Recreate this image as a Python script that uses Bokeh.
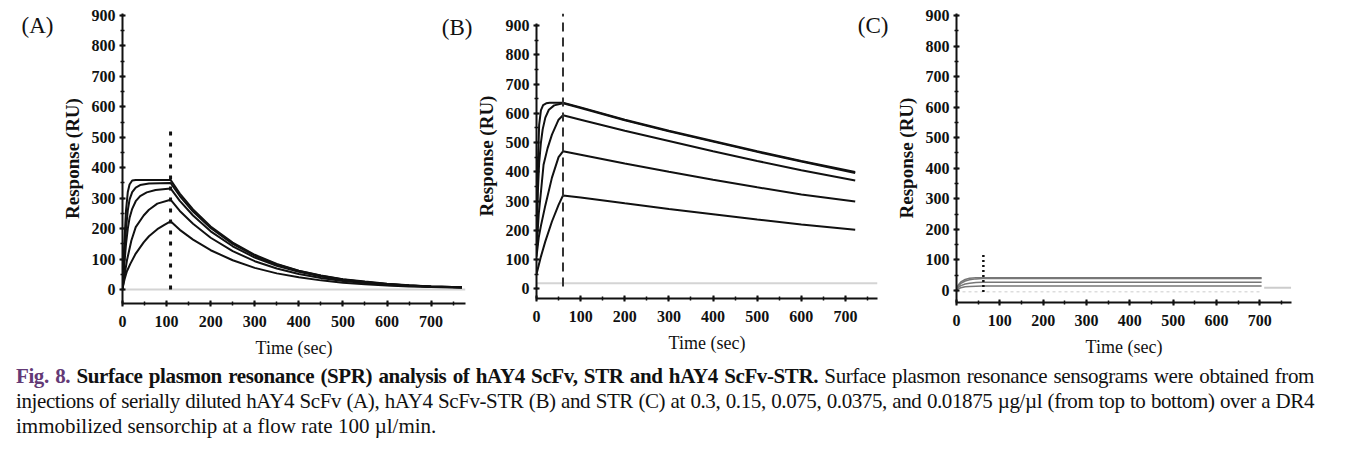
from bokeh.plotting import figure
from bokeh.models import Range1d, SingleIntervalTicker, FixedTicker, LinearAxis, Div
from bokeh.layouts import row, column
from bokeh.embed import file_html
from bokeh.resources import INLINE

# ---------------- data ----------------
# Panel A: hAY4 ScFv
a_t1 = [0, 4, 8, 12, 16, 22, 30, 109, 130, 160, 200, 250, 300, 350, 400, 450, 500, 550, 600, 650, 700, 770]
a_v1 = [0, 150, 260, 320, 345, 358, 360, 360, 315, 263, 207, 154, 114, 84, 62, 46, 34, 26, 19, 14, 10, 7]
a_t2 = [0, 4, 8, 12, 16, 22, 30, 40, 60, 109, 130, 160, 200, 250, 300, 350, 400, 450, 500, 550, 600, 650, 700, 770]
a_v2 = [0, 110, 200, 260, 295, 320, 335, 343, 348, 350, 307, 256, 202, 150, 111, 82, 61, 45, 33, 25, 18, 13, 10, 7]
a_t3 = [0, 4, 8, 12, 16, 22, 30, 40, 55, 75, 109, 130, 160, 200, 250, 300, 350, 400, 450, 500, 550, 600, 650, 700, 770]
a_v3 = [0, 80, 150, 200, 235, 265, 290, 307, 319, 327, 332, 291, 243, 191, 142, 105, 78, 58, 43, 32, 24, 17, 13, 10, 7]
a_t4 = [0, 5, 10, 20, 30, 48, 60, 79, 109, 130, 160, 200, 250, 300, 350, 400, 450, 500, 550, 600, 650, 700, 770]
a_v4 = [0, 50, 95, 160, 205, 243, 262, 282, 295, 258, 216, 170, 126, 93, 69, 51, 38, 28, 21, 15, 12, 9, 7]
a_t5 = [0, 5, 10, 18, 30, 48, 60, 79, 95, 109, 130, 160, 200, 250, 300, 350, 400, 450, 500, 550, 600, 650, 700, 770]
a_v5 = [5, 35, 60, 85, 118, 155, 175, 198, 212, 224, 196, 164, 129, 96, 71, 53, 40, 30, 22, 17, 13, 10, 8, 6]
a_inject_end = 109
a_marker_top = 532

# Panel B: hAY4 ScFv-STR
b_t1 = [0, 3, 6, 10, 15, 22, 30, 60, 100, 200, 300, 400, 500, 600, 722]
b_v1 = [150, 420, 560, 610, 628, 634, 636, 636, 620, 578, 540, 505, 470, 437, 399]
b_t2 = [0, 3, 6, 10, 14, 20, 28, 40, 60, 100, 200, 300, 400, 500, 600, 722]
b_v2 = [150, 330, 430, 500, 545, 585, 612, 627, 634, 618, 576, 538, 503, 468, 435, 396]
b_t3 = [0, 5, 10, 16, 25, 35, 50, 60, 100, 200, 300, 400, 500, 600, 722]
b_v3 = [130, 254, 330, 424, 480, 527, 578, 593, 578, 540, 505, 470, 437, 405, 370]
b_t4 = [0, 5, 10, 20, 35, 50, 60, 100, 200, 300, 400, 500, 600, 722]
b_v4 = [110, 175, 215, 285, 380, 450, 470, 458, 428, 400, 373, 347, 322, 298]
b_t5 = [0, 10, 20, 35, 50, 60, 100, 200, 300, 400, 500, 600, 722]
b_v5 = [50, 110, 162, 230, 287, 319, 312, 292, 273, 255, 237, 220, 202]
b_inject_end = 60
b_baseline = 19

# Panel C: STR
c_t1 = [0, 5, 10, 20, 30, 45, 60, 704]
c_v1 = [8, 20, 28, 36, 40, 42, 42, 42]
c_t2 = [0, 5, 10, 20, 30, 45, 60, 704]
c_v2 = [6, 16, 23, 31, 35, 38, 39, 39]
c_t3 = [0, 5, 10, 20, 30, 45, 60, 704]
c_v3 = [5, 11, 16, 21, 24, 26, 27, 27]
c_t4 = [0, 5, 10, 20, 30, 45, 60, 704]
c_v4 = [3, 6, 9, 12, 13, 14, 15, 15]
c_inject_end = 62
c_marker_top = 120
c_base_t = [0, 704]
c_base_v = [-4, -4]
c_tail_t = [710, 772]
c_tail_v = [9, 9]

x_label = "Time (sec)"
y_label = "Response (RU)"
panel_labels = ["(A)", "(B)", "(C)"]
panel_label_y = [867, 893, 867]

SERIF = "Liberation Serif"
INK = "#111111"


def make_fig(fw, fh, left, right, top, bottom, xr, yr, ybounds=None):
    p = figure(frame_width=fw, frame_height=fh, x_range=Range1d(*xr), y_range=Range1d(*yr),
               output_backend="svg", toolbar_location=None, title=None,
               min_border_left=left, min_border_right=right,
               min_border_top=top, min_border_bottom=bottom)
    p.grid.visible = False
    p.outline_line_color = None
    p.background_fill_alpha = 0
    p.border_fill_alpha = 0
    for ax in (p.xaxis[0], p.yaxis[0]):
        ax.ticker = SingleIntervalTicker(interval=100, num_minor_ticks=2)
        ax.axis_line_width = 2
        ax.axis_line_color = INK
        ax.major_tick_line_width = 2
        ax.major_tick_line_color = INK
        ax.minor_tick_line_width = 1.5
        ax.minor_tick_line_color = INK
        ax.major_tick_in = 3
        ax.major_tick_out = 3
        ax.minor_tick_in = 2
        ax.minor_tick_out = 2
        ax.major_label_text_font = SERIF
        ax.major_label_text_font_style = "bold"
        ax.major_label_text_font_size = "16px"
        ax.major_label_text_color = INK
    p.xaxis.major_label_standoff = 9
    p.yaxis.major_label_standoff = 4
    p.xaxis.axis_label = x_label
    p.xaxis.axis_label_text_font = SERIF
    p.xaxis.axis_label_text_font_style = "normal"
    p.xaxis.axis_label_text_font_size = "18px"
    p.xaxis.axis_label_text_color = INK
    p.xaxis.axis_label_standoff = 8
    p.yaxis.axis_label = y_label
    p.yaxis.axis_label_text_font = SERIF
    p.yaxis.axis_label_text_font_style = "bold"
    p.yaxis.axis_label_text_font_size = "19px"
    p.yaxis.axis_label_text_color = INK
    p.yaxis.axis_label_standoff = 6
    if ybounds is not None:
        p.yaxis.bounds = ybounds
    return p


def add_panel_label(p, yv, text, standoff):
    ax = LinearAxis(ticker=FixedTicker(ticks=[yv]), major_label_overrides={yv: text},
                    axis_line_color=None, major_tick_line_color=None, minor_tick_line_color=None,
                    major_tick_in=0, major_tick_out=0, minor_tick_in=0, minor_tick_out=0,
                    major_label_standoff=standoff, major_label_text_font=SERIF,
                    major_label_text_font_size="23px", major_label_text_color=INK)
    p.add_layout(ax, "left")


# ---------------- Panel A ----------------
pA = make_fig(343, 290, 122, 13, 13, 80, (0, 778), (-46, 906.7))
pA.line([0, 778], [0, 0], line_color="#d4d4d4", line_width=2)
for t, v in [(a_t1, a_v1), (a_t2, a_v2), (a_t3, a_v3), (a_t4, a_v4), (a_t5, a_v5)]:
    pA.line(t, v, line_color=INK, line_width=2)
pA.line([a_inject_end, a_inject_end], [0, a_marker_top], line_color=INK,
        line_width=3, line_dash="4 7")
add_panel_label(pA, panel_label_y[0], panel_labels[0], 5)

# ---------------- Panel B ----------------
pB = make_fig(341, 285, 100, 13, 12, 86, (0, 772.5), (-33.2, 941), ybounds=(-33.2, 908))
pB.line([0, 772.5], [b_baseline, b_baseline], line_color="#d4d4d4", line_width=2)
for t, v in [(b_t1, b_v1), (b_t2, b_v2), (b_t3, b_v3), (b_t4, b_v4), (b_t5, b_v5)]:
    pB.line(t, v, line_color=INK, line_width=2)
pB.line([b_inject_end, b_inject_end], [8, 941], line_color="#333333",
        line_width=2, line_dash="9 6")
add_panel_label(pB, panel_label_y[1], panel_labels[1], 0)
pB.margin = (0, 0, 0, -42)

# ---------------- Panel C ----------------
pC = make_fig(335, 289, 98, 20, 13, 81, (0, 773), (-39.3, 906.4))
pC.line(c_base_t, c_base_v, line_color="#dddddd", line_width=1.5, line_dash="3 3")
pC.line(c_tail_t, c_tail_v, line_color="#cccccc", line_width=2)
for t, v in [(c_t1, c_v1), (c_t2, c_v2), (c_t3, c_v3), (c_t4, c_v4)]:
    pC.line(t, v, line_color="#777777", line_width=1.5)
pC.line([c_inject_end, c_inject_end], [-5, c_marker_top], line_color=INK,
        line_width=2.5, line_dash="2 3")
add_panel_label(pC, panel_label_y[2], panel_labels[2], 4)
pC.margin = (0, 0, 0, -36)

# ---------------- Caption ----------------
just = "text-align:justify;text-align-last:justify;white-space:nowrap;"
caption = (
    f'<div style="font-family:\'{SERIF}\';font-size:21px;line-height:25px;color:#111;'
    'padding-left:16px;padding-top:8px;width:1314px;">'
    f'<div style="{just}letter-spacing:-0.4px;word-spacing:-2px;"><b><span style="color:#633a76">Fig. 8.</span> '
    'Surface plasmon resonance (SPR) analysis of hAY4 ScFv, STR and hAY4 ScFv-STR.</b> '
    'Surface plasmon resonance sensograms were obtained from</div>'
    f'<div style="{just}letter-spacing:-0.4px;word-spacing:-2px;">injections of serially diluted hAY4 ScFv (A), '
    'hAY4 ScFv-STR (B) and STR (C) at 0.3, 0.15, 0.075, 0.0375, and 0.01875 \u00b5g/\u00b5l '
    '(from top to bottom) over a DR4</div>'
    '<div style="white-space:nowrap;">immobilized sensorchip at a flow rate 100 \u00b5l/min.</div>'
    '</div>'
)
cap = Div(text=caption, width=1340, height=90)
cap.margin = (-27, 0, 0, 0)

layout = column(row(pA, pB, pC), cap)

with open("out.html", "w") as f:
    f.write(file_html(layout, INLINE))
